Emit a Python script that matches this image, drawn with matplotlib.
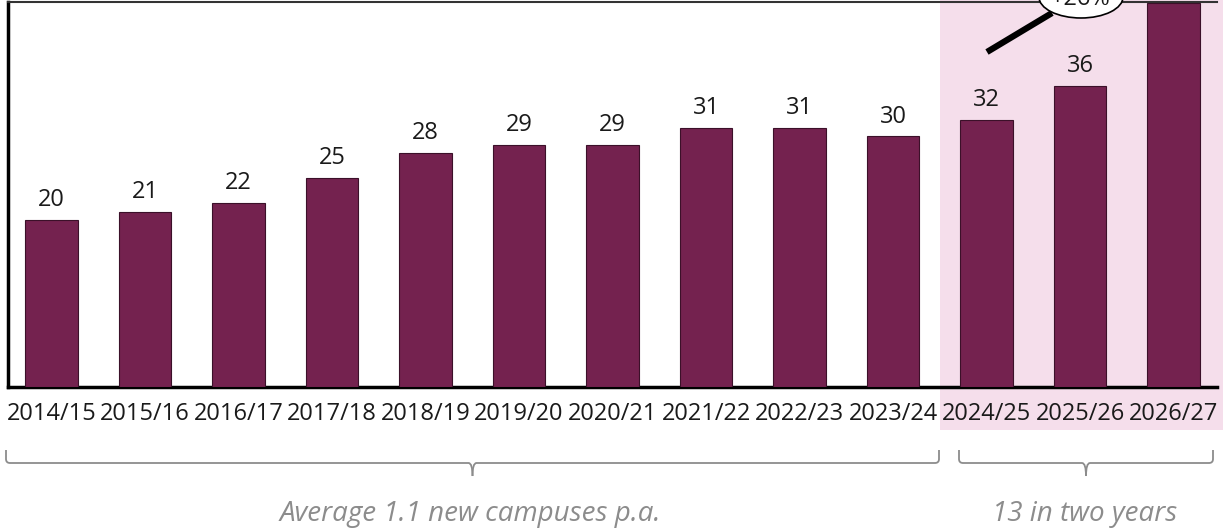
import matplotlib
matplotlib.use("Agg")
import matplotlib.pyplot as plt
from matplotlib.patches import Rectangle, Ellipse, PathPatch
from matplotlib.path import Path
from matplotlib.lines import Line2D

categories = ["2014/15", "2015/16", "2016/17", "2017/18", "2018/19", "2019/20", "2020/21",
              "2021/22", "2022/23", "2023/24", "2024/25", "2025/26", "2026/27"]
values = [20, 21, 22, 25, 28, 29, 29, 31, 31, 30, 32, 36, 46]
left_note = "Average 1.1 new campuses p.a."
right_note = "13 in two years"
growth_label = "+26%"

W, H = 1223, 529
plt.rcParams['font.family'] = ['Open Sans', 'DejaVu Sans']
fig = plt.figure(figsize=(W / 100, H / 100), dpi=100)

def fp(x, y):
    return (x / W, 1 - y / H)

# pink highlight for forecast years
fig.patches.append(Rectangle(fp(940, 430), (W - 940) / W, 430 / H, transform=fig.transFigure,
                             facecolor="#F5DEEB", edgecolor="none", zorder=-5))

ax = fig.add_axes([8 / W, (H - 387) / H, (1217 - 8) / W, (387 - 2) / H])
ax.set_zorder(1)
ax.patch.set_alpha(0)
x = list(range(len(categories)))
ax.bar(x, values, width=0.56, color="#74224F", edgecolor="#3b1029", linewidth=0.8, zorder=3)
ax.set_xlim(-0.465, len(categories) - 0.535)
ax.set_ylim(0, 46.1)
for xi, v in zip(x, values):
    ax.text(xi, v + 0.95, str(v), ha="center", va="bottom", fontsize=17, color="#1a1a1a",
            clip_on=True)

ax.set_xticks(x)
ax.set_xticklabels(categories, fontsize=17, color="#1a1a1a")
ax.tick_params(axis="x", length=0, pad=11)
ax.set_yticks([])
ax.spines["left"].set_linewidth(2.5)
ax.spines["bottom"].set_linewidth(2.5)
ax.spines["right"].set_visible(False)
ax.spines["top"].set_linewidth(1.5)
ax.spines["top"].set_color("#333333")

# growth arrow line and ellipse
fig.add_artist(Line2D([987 / W, 1052 / W], [1 - 52 / H, 1 - 13 / H], transform=fig.transFigure,
                      color="black", linewidth=4.5, solid_capstyle="butt", zorder=5))
fig.add_artist(Ellipse(fp(1081, -3), 84 / W, 42 / H, transform=fig.transFigure,
                       facecolor="white", edgecolor="black", linewidth=1.2, zorder=6))
fig.text(*fp(1081, -1), growth_label, ha="center", va="center", fontsize=17, color="#1a1a1a",
         zorder=7)

def bracket(x0, x1, ytop=450, yline=463, ytip=476, r=4):
    xm = (x0 + x1) / 2
    codes = [Path.MOVETO, Path.LINETO, Path.CURVE3, Path.CURVE3, Path.LINETO, Path.CURVE3, Path.CURVE3]
    for xe, s in ((x0, 1), (x1, -1)):
        verts = [fp(xe, ytop), fp(xe, yline - r), fp(xe, yline), fp(xe + s * r, yline),
                 fp(xm - s * r, yline), fp(xm, yline), fp(xm, ytip)]
        fig.patches.append(PathPatch(Path(verts, codes), transform=fig.transFigure, fill=False,
                                     edgecolor="#8c8c8c", linewidth=1.3))

bracket(6, 939)
bracket(959, 1213)

fig.text(*fp(470, 514), left_note, ha="center", va="center", fontsize=20, style="italic",
         color="#8c8c8c")
fig.text(*fp(1085, 514), right_note, ha="center", va="center", fontsize=20, style="italic",
         color="#8c8c8c")

fig.savefig("out.png", dpi=100)
